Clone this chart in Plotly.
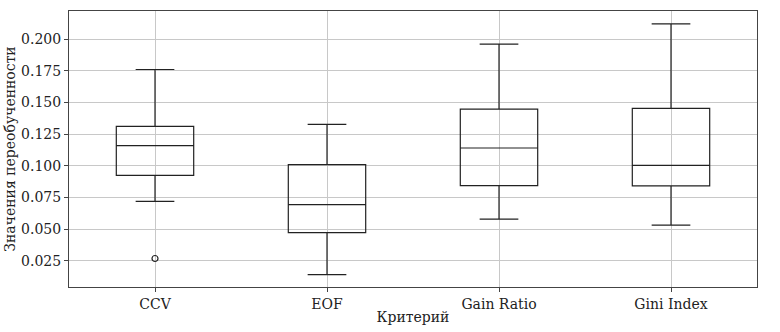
import plotly.graph_objects as go

categories = ["CCV", "EOF", "Gain Ratio", "Gini Index"]
lower_whisker = [0.0720, 0.0140, 0.0579, 0.0531]
q1_values = [0.0925, 0.0473, 0.0844, 0.0841]
median_values = [0.1159, 0.0694, 0.1141, 0.1004]
q3_values = [0.1312, 0.1009, 0.1448, 0.1454]
upper_whisker = [0.1761, 0.1327, 0.1961, 0.2121]
outlier_cats = ["CCV"]
outlier_values = [0.0268]
ytick_vals = [0.025, 0.050, 0.075, 0.100, 0.125, 0.150, 0.175, 0.200]

font_family = "DejaVu Serif"
line_col = "#222222"

fig = go.Figure()
fig.add_trace(go.Box(
    x=categories,
    q1=q1_values,
    median=median_values,
    q3=q3_values,
    lowerfence=lower_whisker,
    upperfence=upper_whisker,
    width=0.45,
    whiskerwidth=0.5,
    fillcolor="rgba(0,0,0,0)",
    line=dict(color=line_col, width=1.2),
    boxpoints=False,
    showlegend=False,
    hoverinfo="skip",
))
fig.add_trace(go.Scatter(
    x=outlier_cats,
    y=outlier_values,
    mode="markers",
    marker=dict(symbol="circle-open", size=6, color=line_col, line=dict(width=1.2, color=line_col)),
    showlegend=False,
    hoverinfo="skip",
))

fig.update_layout(
    width=780,
    height=332,
    margin=dict(l=69, r=23, t=11, b=45),
    paper_bgcolor="white",
    plot_bgcolor="white",
    font=dict(family=font_family, size=14, color="#222222"),
    xaxis=dict(
        title=dict(text="Критерий", font=dict(size=14), standoff=1),
        automargin=False,
        type="category",
        categoryorder="array",
        categoryarray=categories,
        range=[-0.5, 3.5],
        showgrid=True,
        gridcolor="#c8c8c8",
        gridwidth=1,
        showline=True,
        linecolor="#444444",
        linewidth=1,
        mirror=True,
        ticks="outside",
        ticklen=4,
        tickcolor="#444444",
        zeroline=False,
    ),
    yaxis=dict(
        title=dict(text="Значения переобученности", font=dict(size=14), standoff=2),
        automargin=False,
        range=[0.0043, 0.2223],
        tickvals=ytick_vals,
        tickformat=".3f",
        showgrid=True,
        gridcolor="#c8c8c8",
        gridwidth=1,
        showline=True,
        linecolor="#444444",
        linewidth=1,
        mirror=True,
        ticks="outside",
        ticklen=4,
        tickcolor="#444444",
        zeroline=False,
    ),
)

fig.write_html("out.html")
